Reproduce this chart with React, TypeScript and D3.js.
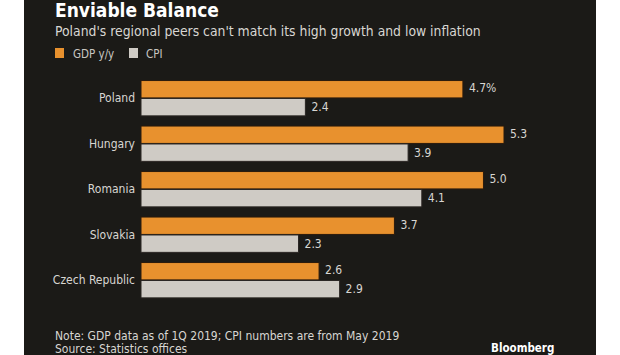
import React from "react";
import * as d3 from "d3";

const categories = ["Poland", "Hungary", "Romania", "Slovakia", "Czech Republic"];
const gdpValues = [4.7, 5.3, 5.0, 3.7, 2.6];
const cpiValues = [2.4, 3.9, 4.1, 2.3, 2.9];
const gdpLabels = ["4.7%", "5.3", "5.0", "3.7", "2.6"];
const cpiLabels = ["2.4", "3.9", "4.1", "2.3", "2.9"];
const seriesNames = ["GDP y/y", "CPI"];

const W = 620;
const H = 355;
const BG = "#1b1a17";
const ORANGE = "#e8912e";
const GRAY = "#cfcbc5";
const TEXT = "#d8d6d2";
const FONT = "'DejaVu Sans Condensed', 'DejaVu Sans', sans-serif";

export default function App() {
  const x = d3.scaleLinear().domain([0, 5.3]).range([141, 504]);
  const y = d3
    .scaleBand()
    .domain(categories)
    .range([80, 298.4])
    .paddingInner(0.2)
    .paddingOuter(0);
  const inner = d3.scaleBand().domain(seriesNames).range([0, y.bandwidth()]).padding(0.03);

  return (
    <svg
      width={W}
      height={H}
      style={{ position: "absolute", left: 0, top: 0, background: "#ffffff" }}
      fontFamily={FONT}
    >
      <rect x={24} y={0} width={572} height={H} fill={BG} />
      <text x={55} y={17} fill="#ffffff" fontSize={19} fontWeight="bold">
        Enviable Balance
      </text>
      <text x={55} y={35.5} fill={TEXT} fontSize={13.8}>
        Poland's regional peers can't match its high growth and low inflation
      </text>
      <rect x={55} y={48} width={9} height={10} fill={ORANGE} />
      <text x={73} y={57.5} fill="#c9c6c1" fontSize={11.5}>
        {seriesNames[0]}
      </text>
      <rect x={129} y={48} width={9} height={10} fill={GRAY} />
      <text x={146} y={57.5} fill="#c9c6c1" fontSize={11.5}>
        {seriesNames[1]}
      </text>

      {categories.map((c, i) => {
        const y0 = y(c)!;
        const gy = y0 + inner(seriesNames[0])!;
        const cy = y0 + inner(seriesNames[1])!;
        const bh = inner.bandwidth();
        return (
          <g key={c}>
            <text
              x={135}
              y={y0 + y.bandwidth() / 2}
              dy="0.35em"
              textAnchor="end"
              fill={TEXT}
              fontSize={12}
            >
              {c}
            </text>
            <rect
              x={x(0)}
              y={gy}
              width={x(gdpValues[i]) - x(0)}
              height={bh}
              fill={ORANGE}
              stroke="#2a1a0c"
              strokeWidth={1}
            />
            <rect
              x={x(0)}
              y={cy}
              width={x(cpiValues[i]) - x(0)}
              height={bh}
              fill={GRAY}
              stroke="#2a2623"
              strokeWidth={1}
            />
            <text x={x(gdpValues[i]) + 6} y={gy + bh / 2 - 1} dy="0.35em" fill={TEXT} fontSize={12}>
              {gdpLabels[i]}
            </text>
            <text x={x(cpiValues[i]) + 6} y={cy + bh / 2} dy="0.35em" fill={TEXT} fontSize={12}>
              {cpiLabels[i]}
            </text>
          </g>
        );
      })}

      <text x={55} y={340} fill={TEXT} fontSize={12}>
        Note: GDP data as of 1Q 2019; CPI numbers are from May 2019
      </text>
      <text x={55} y={353} fill={TEXT} fontSize={12}>
        Source: Statistics offices
      </text>
      <text x={491} y={352} fill="#ffffff" fontSize={11.5} fontWeight="bold">
        Bloomberg
      </text>
    </svg>
  );
}
